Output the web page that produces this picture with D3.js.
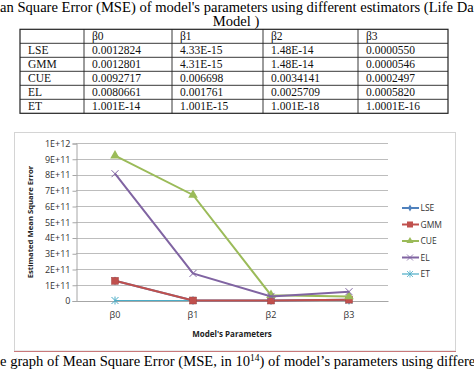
<!DOCTYPE html>
<html>
<head>
<meta charset="utf-8">
<script src="https://cdn.jsdelivr.net/npm/d3@7"></script>
<style>
  body { margin: 0; background: #fff; }
  svg { display: block; }
</style>
</head>
<body>
<script>
// table data
var tableCols = ["", "β0", "β1", "β2", "β3"];
var tableRows = ["LSE", "GMM", "CUE", "EL", "ET"];
var tableVals = [
  ["0.0012824", "4.33E-15", "1.48E-14", "0.0000550"],
  ["0.0012801", "4.31E-15", "1.48E-14", "0.0000546"],
  ["0.0092717", "0.006698", "0.0034141", "0.0002497"],
  ["0.0080661", "0.001761", "0.0025709", "0.0005820"],
  ["1.001E-14", "1.001E-15", "1.001E-18", "1.0001E-16"]
];

// chart data
var params = ["β0", "β1", "β2", "β3"];
var seriesNames = ["LSE", "GMM", "CUE", "EL", "ET"];
var lse = [1.25e11, 0, 0, 5.5e9];
var gmm = [1.25e11, 0, 0, 5.5e9];
var cue = [9.2e11, 6.7e11, 3.4e10, 2.5e10];
var el  = [8.05e11, 1.72e11, 2.6e10, 5.6e10];
var et  = [0, 0, 0, 0];
var yTicks = [0, 1e11, 2e11, 3e11, 4e11, 5e11, 6e11, 7e11, 8e11, 9e11, 1e12];

var colors = {LSE: "#4F81BD", GMM: "#C0504D", CUE: "#9BBB59", EL: "#8064A2", ET: "#4BACC6"};
var marks = {LSE: "diamond", GMM: "square", CUE: "triangle", EL: "x", ET: "star"};

var svg = d3.select("body").append("svg")
  .attr("width", 474).attr("height", 371);

var serif = "'Liberation Serif', 'Times New Roman', serif";
var sans = "'Open Sans', 'Liberation Sans', sans-serif";

// title (cropped by the page edge, as in the source)
svg.append("text").attr("x", 0).attr("y", 12)
  .style("font-family", serif).style("font-size", "14.6px")
  .text("an Square Error (MSE) of model's parameters using different estimators (Life Data");
svg.append("text").attr("x", 236).attr("y", 25.5).attr("text-anchor", "middle")
  .style("font-family", serif).style("font-size", "14.6px")
  .text("Model )");

// table
var colX = [20, 84, 172, 263, 358, 448];
var rowY = d3.range(7).map(function(i) { return 29.3 + i * 14; });
var tbl = svg.append("g").attr("class", "table");
tbl.append("rect").attr("x", colX[0]).attr("y", rowY[0])
  .attr("width", colX[5] - colX[0]).attr("height", rowY[6] - rowY[0])
  .attr("fill", "none").attr("stroke", "#222").attr("stroke-width", 1.2);
rowY.slice(1, 6).forEach(function(y) {
  tbl.append("line").attr("x1", colX[0]).attr("x2", colX[5]).attr("y1", y).attr("y2", y)
    .attr("stroke", "#222").attr("stroke-width", 0.9);
});
colX.slice(1, 5).forEach(function(x) {
  tbl.append("line").attr("x1", x).attr("x2", x).attr("y1", rowY[0]).attr("y2", rowY[6])
    .attr("stroke", "#222").attr("stroke-width", 0.9);
});
var cells = [tableCols].concat(tableRows.map(function(r, i) { return [r].concat(tableVals[i]); }));
cells.forEach(function(row, ri) {
  row.forEach(function(t, ci) {
    tbl.append("text").attr("x", colX[ci] + 8).attr("y", rowY[ri] + 11)
      .style("font-family", serif).style("font-size", "11.5px").attr("fill", "#111")
      .text(t);
  });
});

// chart frame
svg.append("rect").attr("x", 14.5).attr("y", 132.5).attr("width", 441).attr("height", 218.5)
  .attr("fill", "#fff").attr("stroke", "#d4d4d4").attr("stroke-width", 1);
svg.append("line").attr("x1", 14).attr("x2", 456).attr("y1", 351.5).attr("y2", 351.5)
  .attr("stroke", "#c9787a").attr("stroke-width", 1);

var margin = {left: 76, right: 388, top: 143, bottom: 300.5};
var x = d3.scaleBand().domain(params).range([margin.left, margin.right]);
var y = d3.scaleLinear().domain([0, 1e12]).range([margin.bottom, margin.top]);

function fmt(d) {
  if (d === 0) return "0";
  var e = Math.floor(Math.log10(d) + 1e-9);
  return Math.round(d / Math.pow(10, e)) + "E+" + e;
}

// gridlines
svg.append("g").selectAll("line").data(yTicks).enter().append("line")
  .attr("x1", margin.left).attr("x2", margin.right)
  .attr("y1", function(d) { return Math.round(y(d)) + 0.5; })
  .attr("y2", function(d) { return Math.round(y(d)) + 0.5; })
  .attr("stroke", "#bdbdbd").attr("stroke-width", 1);

// y axis
var yAxis = d3.axisLeft(y).tickValues(yTicks).tickFormat(fmt).tickSize(4).tickPadding(2);
var gy = svg.append("g").attr("transform", "translate(" + (margin.left + 0.5) + ",0.5)").call(yAxis);
gy.select(".domain").attr("stroke", "#a6a6a6");
gy.selectAll(".tick line").attr("stroke", "#a6a6a6");
gy.selectAll("text").style("font-family", sans).style("font-size", "9px").attr("fill", "#333");

// x axis
var xAxis = d3.axisBottom(x).tickSize(0).tickPadding(11);
var gx = svg.append("g").attr("transform", "translate(0," + (margin.bottom + 0.5) + ")").call(xAxis);
gx.select(".domain").attr("stroke", "#a6a6a6");
gx.selectAll("text").style("font-family", sans).style("font-size", "9px").attr("fill", "#333");

// axis titles
svg.append("text").attr("x", 232).attr("y", 337).attr("text-anchor", "middle")
  .style("font-family", sans).style("font-size", "8px").style("font-weight", "bold").attr("fill", "#222")
  .text("Model's Parameters");
svg.append("text").attr("transform", "translate(33,222) rotate(-90)").attr("text-anchor", "middle")
  .style("font-family", sans).style("font-size", "7.7px").style("font-weight", "bold").attr("fill", "#222")
  .text("Estimated Mean Square Error");

// series
var seriesData = {LSE: lse, GMM: gmm, CUE: cue, EL: el, ET: et};
var drawOrder = ["ET", "LSE", "GMM", "CUE", "EL"];
var line = d3.line()
  .x(function(d, i) { return x(params[i]) + x.bandwidth() / 2; })
  .y(function(d) { return y(d); });

function drawMarker(g, kind, color, cx, cy) {
  if (kind === "diamond") {
    g.append("path").attr("d", d3.symbol(d3.symbolDiamond, 22)()).attr("transform", "translate(" + cx + "," + cy + ")")
      .attr("fill", color);
  } else if (kind === "square") {
    g.append("rect").attr("x", cx - 3.5).attr("y", cy - 3.5).attr("width", 7).attr("height", 7)
      .attr("fill", color).attr("stroke", "#a04341").attr("stroke-width", 0.5);
  } else if (kind === "triangle") {
    g.append("path").attr("d", d3.symbol(d3.symbolTriangle, 40)()).attr("transform", "translate(" + cx + "," + cy + ")")
      .attr("fill", color);
  } else if (kind === "x") {
    g.append("path").attr("d", "M-3.5,-3.5L3.5,3.5M-3.5,3.5L3.5,-3.5").attr("transform", "translate(" + cx + "," + cy + ")")
      .attr("stroke", color).attr("stroke-width", 1);
  } else {
    g.append("path").attr("d", "M-3.5,-3.5L3.5,3.5M-3.5,3.5L3.5,-3.5M0,-4L0,4").attr("transform", "translate(" + cx + "," + cy + ")")
      .attr("stroke", color).attr("stroke-width", 1);
  }
}

drawOrder.forEach(function(name) {
  var vals = seriesData[name];
  var g = svg.append("g").attr("class", "series");
  g.append("path").datum(vals).attr("d", line).attr("fill", "none")
    .attr("stroke", colors[name]).attr("stroke-width", name === "ET" ? 1.2 : 2);
  vals.forEach(function(v, i) {
    drawMarker(g, marks[name], colors[name], x(params[i]) + x.bandwidth() / 2, y(v));
  });
});

// legend
var legend = svg.append("g").selectAll("g").data(seriesNames).enter().append("g")
  .attr("transform", function(d, i) { return "translate(0," + (208 + i * 16.5) + ")"; });
legend.append("line").attr("x1", 402).attr("x2", 419).attr("y1", 0).attr("y2", 0)
  .attr("stroke", function(d) { return colors[d]; }).attr("stroke-width", function(d) { return d === "ET" ? 1.2 : 2; });
legend.each(function(d) {
  var g = d3.select(this);
  var m = marks[d];
  if (m === "square") {
    g.append("rect").attr("x", 407).attr("y", -3).attr("width", 6).attr("height", 6).attr("fill", colors[d]);
  } else if (m === "diamond") {
    g.append("path").attr("d", d3.symbol(d3.symbolDiamond, 14)()).attr("transform", "translate(410,0)").attr("fill", colors[d]);
  } else if (m === "triangle") {
    g.append("path").attr("d", d3.symbol(d3.symbolTriangle, 22)()).attr("transform", "translate(410,0)").attr("fill", colors[d]);
  } else if (m === "x") {
    g.append("path").attr("d", "M-3,-3L3,3M-3,3L3,-3").attr("transform", "translate(410,0)").attr("stroke", colors[d]).attr("stroke-width", 0.8);
  } else {
    g.append("path").attr("d", "M-3,-3L3,3M-3,3L3,-3M0,-3.5L0,3.5").attr("transform", "translate(410,0)").attr("stroke", colors[d]).attr("stroke-width", 0.8);
  }
});
legend.append("text").attr("x", 420.5).attr("y", 3)
  .style("font-family", sans).style("font-size", "8.5px").attr("fill", "#333")
  .text(function(d) { return d; });

// caption (cropped by the page edge)
var cap = svg.append("text").attr("x", 0).attr("y", 365.5)
  .style("font-family", serif).style("font-size", "14.6px");
cap.append("tspan").text("e graph of Mean Square Error (MSE, in 10");
cap.append("tspan").attr("dy", -5).style("font-size", "9.5px").text("14");
cap.append("tspan").attr("dy", 5).text(") of model\u2019s parameters using different");
</script>
</body>
</html>
